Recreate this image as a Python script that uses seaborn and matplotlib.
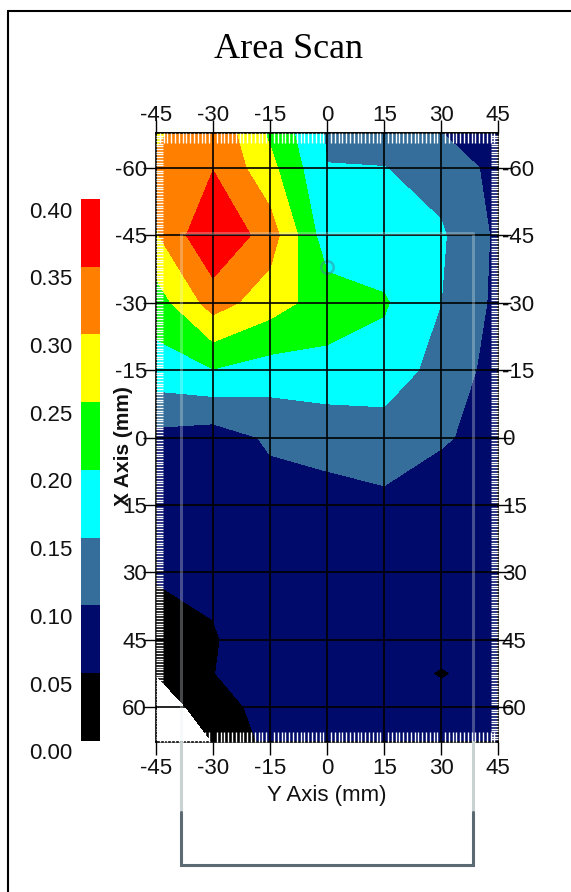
import numpy as np
import matplotlib
matplotlib.use("Agg")
import matplotlib.pyplot as plt
from matplotlib.lines import Line2D
from matplotlib.ticker import MultipleLocator
import seaborn as sns

# scan grid in mm: Y runs across, X runs down (inverted)
y_pos = [-45, -30, -15, 0, 15, 30, 45]
x_pos = [-68, -60, -45, -30, -15, 0, 15, 30, 45, 52.5, 60, 68]

# amplitude, one list per x_pos row
amp_xm68 = [0.290, 0.340, 0.240, 0.144, 0.125, 0.100, 0.070]
amp_xm60 = [0.310, 0.348, 0.265, 0.151, 0.151, 0.130, 0.085]
amp_xm45 = [0.295, 0.398, 0.325, 0.170, 0.170, 0.156, 0.090]
amp_xm30 = [0.225, 0.322, 0.273, 0.225, 0.205, 0.150, 0.0875]
amp_xm15 = [0.179, 0.198, 0.178, 0.185, 0.180, 0.130, 0.081]
amp_x0 = [0.086, 0.075, 0.107, 0.115, 0.125, 0.105, 0.083]
amp_x15 = [0.070, 0.070, 0.080, 0.085, 0.090, 0.075, 0.070]
amp_x30 = [0.055, 0.062, 0.075, 0.075, 0.075, 0.070, 0.070]
amp_x45 = [0.025, 0.045, 0.085, 0.075, 0.072, 0.070, 0.070]
amp_x52 = [0.001, 0.048, 0.090, 0.072, 0.072, 0.046, 0.070]
amp_x60 = [-0.022, 0.020, 0.075, 0.070, 0.070, 0.068, 0.070]
amp_x68 = [-0.040, 0.000, 0.065, 0.070, 0.070, 0.070, 0.070]

levels = [0.00, 0.05, 0.10, 0.15, 0.20, 0.25, 0.30, 0.35, 0.40]
level_labels = ["0.00", "0.05", "0.10", "0.15", "0.20", "0.25", "0.30", "0.35", "0.40"]
level_colors = ["#000000", "#000a6b", "#356e9a", "#00ffff",
                "#00ff00", "#ffff00", "#ff8000", "#ff0000"]

major_y = [-45, -30, -15, 0, 15, 30, 45]
major_x = [-60, -45, -30, -15, 0, 15, 30, 45, 60]

# faint probe marker seen on the scan
mark_y = [0]
mark_x = [-38]

amp = np.array([amp_xm68, amp_xm60, amp_xm45, amp_xm30, amp_xm15, amp_x0,
                amp_x15, amp_x30, amp_x45, amp_x52, amp_x60, amp_x68])

sns.set_theme(style="white")
plt.rcParams["font.family"] = ["Liberation Sans", "DejaVu Sans"]
plt.rcParams["axes.unicode_minus"] = False

W, H = 571, 892
fig = plt.figure(figsize=(W / 100, H / 100), dpi=100)


def fx(px):
    return px / W


def fy(py):
    return 1 - py / H


ax = fig.add_axes([fx(156), fy(741.7), 342.3 / W, 608.4 / H])
palette = sns.color_palette(level_colors)
cs = ax.contourf(y_pos, x_pos, amp, levels=levels, colors=palette)

ax.plot(mark_y, mark_x, marker="o", ms=9, mfc="none", mec="#3d8fa3",
        mew=1.8, alpha=0.55, ls="none")

ax.set_xlim(-45, 45)
ax.set_ylim(67.7, -67.7)
ax.set_xticks(major_y)
ax.set_yticks(major_x)
ax.grid(True, which="major", color="black", lw=1.2)
ax.set_axisbelow(False)
for s in ax.spines.values():
    s.set_color("black")
    s.set_linewidth(1.2)

ax.tick_params(which="major", direction="out", length=9.5, width=1.0,
               color="black", top=True, right=True, bottom=True, left=True,
               labelsize=16, labelcolor="#111111")
ax.tick_params(axis="x", which="major", pad=2)
ax.tick_params(axis="y", which="major", pad=-3)

ax.xaxis.set_minor_locator(MultipleLocator(1.0))
ax.yaxis.set_minor_locator(MultipleLocator(0.6))
ax.tick_params(which="minor", direction="in", color="white", width=1.0,
               top=True, right=True, bottom=True, left=True)
ax.tick_params(axis="x", which="minor", length=7.5)
ax.tick_params(axis="y", which="minor", length=5)

secx = ax.secondary_xaxis("top")
secx.set_xticks(major_y)
secx.tick_params(length=0, pad=5.5, labelsize=16, labelcolor="#111111")
secy = ax.secondary_yaxis("right")
secy.set_yticks(major_x)
secy.tick_params(length=0, pad=2.5, labelsize=16, labelcolor="#111111")

ax.set_xlabel("Y Axis (mm)", fontsize=16, color="#111111")
ax.xaxis.set_label_coords(0.5, -0.071)
ax.set_ylabel("X Axis (mm)", fontsize=15, fontweight="bold", color="#111111")
ax.yaxis.set_label_coords(-0.068, 0.486)

fig.text(fx(289), fy(49.7), "Area Scan", ha="center", va="center",
         fontsize=26, family="Liberation Serif", color="black")

# colour scale
cax = fig.add_axes([fx(80.7), fy(740.7), 19.6 / W, 541.7 / H])
cb = fig.colorbar(cs, cax=cax)
cb.outline.set_visible(False)
cax.set_yticks([])
for v, lab in zip(levels, level_labels):
    cax.annotate(lab, xy=(0, v), xycoords=("axes fraction", "data"),
                 xytext=(-6, -9.4), textcoords="offset points",
                 ha="right", va="center", fontsize=16, color="#111111",
                 annotation_clip=False)

# frame lines of the page
fig.add_artist(Line2D([fx(8.3), fx(8.3)], [0, fy(10.8)], color="black", lw=1.5))
fig.add_artist(Line2D([fx(8.3), 1], [fy(10.8), fy(10.8)], color="black", lw=1.5))

# probe bracket below the scan
xl, xr = 180.5, 473
fig.add_artist(Line2D([fx(xl), fx(xl), fx(xr), fx(xr)],
                      [fy(741.7), fy(233), fy(233), fy(741.7)],
                      color="#e4ecec", lw=2.2, alpha=0.3))
fig.add_artist(Line2D([fx(xl), fx(xl)], [fy(741.7), fy(811.5)], color="#c8d2d2", lw=2.2))
fig.add_artist(Line2D([fx(xr), fx(xr)], [fy(741.7), fy(811.5)], color="#c8d2d2", lw=2.2))
fig.add_artist(Line2D([fx(xl), fx(xl), fx(xr), fx(xr)],
                      [fy(811.5), fy(864.5), fy(864.5), fy(811.5)],
                      color="#5c6b73", lw=2.2, solid_joinstyle="miter"))

fig.savefig("out.png", dpi=100)
